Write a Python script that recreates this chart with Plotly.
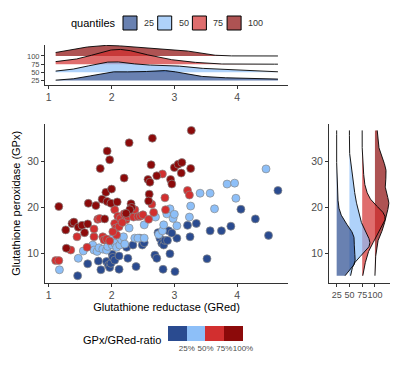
import numpy as np
import plotly.graph_objects as go

# ---------------- data ----------------
groups = ["25", "50", "75", "100"]
group_pos = [25, 50, 75, 100]
point_colors = ["#2A4B90", "#8DBFF8", "#D22F2F", "#8C0A0A"]
fill_colors = ["rgba(42,75,144,0.7)", "rgba(141,191,248,0.7)",
               "rgba(210,47,47,0.7)", "rgba(140,10,10,0.7)"]
colorbar_labels = ["25%", "50%", "75%", "100%"]

gred_q25 = [1.46, 1.62, 1.79, 1.83, 1.92, 1.95, 1.97, 1.99, 2.01, 2.02, 2.05, 2.12, 2.12, 2.24, 2.26,
            2.34, 2.39, 2.45, 2.49, 2.52, 2.69, 2.72, 2.74, 2.77, 2.80, 2.82, 2.83, 2.85, 2.89, 2.91,
            2.93, 3.01, 3.04, 3.25, 3.21, 3.35, 3.52, 3.57, 3.75, 3.90, 4.06, 4.29, 4.65, 4.50, 2.96]
gpx_q25 = [5.1, 7.7, 8.3, 6.4, 8.2, 7.4, 6.9, 7.8, 9.8, 9.1, 8.5, 9.4, 6.5, 11.3, 8.9,
           11.8, 7.1, 13.3, 11.8, 12.3, 9.6, 8.9, 14.5, 13.3, 12.2, 6.5, 11.8, 12.8, 12.8, 14.9,
           9.9, 6.0, 13.3, 13.6, 16.1, 16.5, 8.8, 14.9, 14.9, 15.9, 19.6, 17.5, 23.7, 13.9, 14.4]

gred_q50 = [1.17, 1.47, 1.55, 1.70, 1.72, 1.77, 1.80, 1.86, 1.92, 1.94, 1.99, 2.01, 2.02, 2.05, 2.08,
            2.13, 2.16, 2.19, 2.21, 2.28, 2.37, 2.42, 2.52, 2.52, 2.70, 2.75, 2.81, 2.83, 2.88, 2.93,
            2.98, 3.04, 3.00, 3.24, 3.26, 3.41, 3.57, 3.64, 3.84, 3.96, 3.98, 4.46]
gpx_q50 = [6.4, 8.9, 10.5, 11.8, 10.7, 10.4, 11.2, 10.9, 10.7, 11.5, 12.8, 11.8, 13.3, 12.2, 11.3,
           11.8, 12.9, 13.6, 12.0, 15.5, 13.3, 13.3, 16.2, 13.3, 17.9, 14.1, 14.9, 16.2, 18.6, 19.7,
           17.6, 16.0, 18.5, 17.9, 20.3, 23.1, 23.1, 19.7, 25.1, 25.3, 22.0, 28.4]

gred_q75 = [1.11, 1.16, 1.35, 1.45, 1.61, 1.72, 1.72, 1.78, 1.81, 1.86, 1.88, 1.92, 2.05, 2.05, 2.07,
            2.08, 2.10, 2.12, 2.14, 2.20, 2.23, 2.26, 2.32, 2.35, 2.37, 2.42, 2.46, 2.50, 2.59, 2.64,
            2.67, 2.81, 2.85, 2.86, 3.21, 3.24, 2.17, 1.97, 2.02]
gpx_q75 = [8.4, 8.4, 10.7, 13.6, 11.3, 13.6, 15.3, 17.4, 17.6, 13.6, 12.9, 13.1, 19.5, 16.5, 15.5,
           14.0, 18.1, 15.8, 17.6, 18.6, 17.3, 18.0, 18.7, 17.9, 19.5, 18.0, 18.1, 18.4, 17.4, 20.7,
           18.9, 27.3, 22.1, 19.5, 23.7, 22.7, 16.7, 12.7, 14.7]

gred_q100 = [1.16, 1.27, 1.28, 1.37, 1.40, 1.47, 1.53, 1.57, 1.62, 1.63, 1.75, 1.82, 1.85, 1.89, 1.91,
             1.93, 1.97, 1.93, 2.00, 1.99, 2.09, 2.20, 2.28, 2.31, 2.32, 2.29, 2.58, 2.61, 2.60, 2.59,
             2.63, 2.65, 2.72, 2.94, 2.96, 3.00, 3.06, 3.12, 3.11, 3.27, 3.26, 2.23]
gpx_q100 = [20.2, 15.1, 11.1, 16.5, 16.8, 15.7, 16.1, 14.5, 16.4, 20.9, 20.4, 28.5, 21.8, 17.5, 23.3,
            32.3, 30.4, 21.3, 24.0, 20.9, 21.2, 26.4, 34.1, 20.8, 20.0, 19.5, 26.1, 25.5, 22.9, 21.4,
            29.3, 35.1, 26.9, 26.1, 25.1, 28.7, 29.4, 29.8, 27.5, 36.8, 28.5, 18.7]

gred = [gred_q25, gred_q50, gred_q75, gred_q100]
gpx = [gpx_q25, gpx_q50, gpx_q75, gpx_q100]

W, H = 400, 370

# ---------------- density ridges (joint bandwidth, like ggridges) ----------------
RIDGE_SCALE = 1.8 * 25


def nrd0(v):
    v = np.asarray(v, float)
    sd = v.std(ddof=1)
    iqr = np.subtract(*np.percentile(v, [75, 25]))
    lo = min(sd, iqr / 1.34) if iqr > 0 else sd
    return 0.9 * lo * len(v) ** -0.2


def ridges(samples):
    allv = np.concatenate([np.asarray(s, float) for s in samples])
    bw = np.mean([nrd0(s) for s in samples])
    grid = np.linspace(allv.min(), allv.max(), 400)
    dens = []
    for s in samples:
        s = np.asarray(s, float)
        d = np.exp(-0.5 * ((grid[:, None] - s[None, :]) / bw) ** 2).sum(1)
        dens.append(d / (len(s) * bw * np.sqrt(2 * np.pi)))
    m = max(d.max() for d in dens)
    return grid, [d / m * RIDGE_SCALE for d in dens]


fig = go.Figure()

# top panel: GRed densities
gx, hx = ridges(gred)
for i in [3, 2, 1, 0]:
    base = group_pos[i]
    fig.add_trace(go.Scatter(
        x=np.concatenate([gx, gx[::-1]]),
        y=np.concatenate([base + hx[i], np.full(len(gx), base)]),
        fill="toself", fillcolor=fill_colors[i], line=dict(width=0),
        mode="lines", xaxis="x2", yaxis="y2", showlegend=False, hoverinfo="skip"))
    fig.add_trace(go.Scatter(
        x=gx, y=base + hx[i], mode="lines", line=dict(color="black", width=0.9),
        xaxis="x2", yaxis="y2", showlegend=False, hoverinfo="skip"))

# right panel: GPx densities
gy, hy = ridges(gpx)
for i in [3, 2, 1, 0]:
    base = group_pos[i]
    fig.add_trace(go.Scatter(
        y=np.concatenate([gy, gy[::-1]]),
        x=np.concatenate([base + hy[i], np.full(len(gy), base)]),
        fill="toself", fillcolor=fill_colors[i], line=dict(width=0),
        mode="lines", xaxis="x3", yaxis="y3", showlegend=False, hoverinfo="skip"))
    fig.add_trace(go.Scatter(
        y=gy, x=base + hy[i], mode="lines", line=dict(color="black", width=0.9),
        xaxis="x3", yaxis="y3", showlegend=False, hoverinfo="skip"))

# scatter
for i in range(4):
    fig.add_trace(go.Scatter(
        x=gred[i], y=gpx[i], mode="markers", showlegend=False, name=groups[i],
        marker=dict(size=8, color=point_colors[i], line=dict(color="#8A8A8A", width=0.7)),
        xaxis="x", yaxis="y"))

# colour bar for the ratio quartiles
cs = []
for i, c in enumerate(point_colors):
    cs.append([i / 4, c])
    cs.append([(i + 1) / 4, c])
fig.add_trace(go.Scatter(
    x=[None], y=[None], mode="markers", showlegend=False, hoverinfo="skip",
    marker=dict(color=[0], cmin=0, cmax=100, colorscale=cs, showscale=True,
                colorbar=dict(orientation="h", x=205.5 / W, xanchor="center",
                              y=(H - 326) / H, yanchor="top",
                              len=75, lenmode="pixels", thickness=15,
                              xpad=0, ypad=0, outlinewidth=0,
                              tickvals=group_pos, ticktext=colorbar_labels, ticks="",
                              tickangle=0,
                              tickfont=dict(size=8, color="#4D4D4D"))),
    xaxis="x", yaxis="y"))

# "quantiles" key (fill legend of the ridges)
shapes = []
annotations = [dict(text="quantiles", x=118 / W, y=(H - 23) / H, xref="paper", yref="paper",
                    xanchor="right", yanchor="middle", showarrow=False,
                    font=dict(size=11, color="black"))]
for i, g in enumerate(groups):
    x0 = 123 + i * 34.7
    shapes.append(dict(type="rect", xref="paper", yref="paper",
                       x0=x0 / W, x1=(x0 + 14) / W, y0=(H - 30) / H, y1=(H - 16) / H,
                       fillcolor=fill_colors[i], line=dict(color="black", width=1)))
    annotations.append(dict(text=g, x=(x0 + 19) / W, y=(H - 23) / H, xref="paper", yref="paper",
                            xanchor="left", yanchor="middle", showarrow=False,
                            font=dict(size=9, color="#333333")))
annotations.append(dict(text="GPx/GRed-ratio", x=163 / W, y=(H - 340) / H,
                        xref="paper", yref="paper", xanchor="right", yanchor="middle",
                        showarrow=False, font=dict(size=11, color="black")))

font = "Liberation Sans, Arial, sans-serif"


def ax(**kw):
    d = dict(showline=True, linecolor="#333333", linewidth=1, ticks="outside",
             ticklen=3, tickcolor="#333333", showgrid=False, zeroline=False, tickangle=0,
             tickfont=dict(size=10.5, color="#4D4D4D"))
    d.update(kw)
    return d


xr = [0.94, 4.81]
yr = [3.58, 38.2]
fig.update_layout(
    width=W, height=H, margin=dict(l=0, r=0, t=0, b=0),
    plot_bgcolor="white", paper_bgcolor="white", showlegend=False,
    font=dict(family=font, color="black"),
    xaxis=ax(domain=[45 / W, 288 / W], range=xr, anchor="y", tickvals=[1, 2, 3, 4],
             title=dict(text="Glutathione reductase (GRed)", font=dict(size=11), standoff=0)),
    yaxis=ax(domain=[(H - 282.7) / H, (H - 124) / H], range=yr, anchor="x",
             tickvals=[10, 20, 30],
             title=dict(text="Glutathione peroxidase (GPx)", font=dict(size=11), standoff=4)),
    xaxis2=ax(domain=[45 / W, 288 / W], range=xr, anchor="y2", tickvals=[1, 2, 3, 4]),
    yaxis2=ax(domain=[(H - 84.5) / H, (H - 45) / H], range=[13, 133.5], anchor="x2",
              tickvals=group_pos, ticktext=groups, tickfont=dict(size=7.5, color="#4D4D4D")),
    xaxis3=ax(domain=[329 / W, 390 / W], range=[10, 129.5], anchor="y3",
              tickvals=group_pos, ticktext=groups, tickfont=dict(size=9, color="#4D4D4D")),
    yaxis3=ax(domain=[(H - 282.7) / H, (H - 124) / H], range=yr, anchor="x3",
              tickvals=[10, 20, 30]),
    shapes=shapes,
    annotations=annotations,
)

fig.write_html("out.html", config={"displayModeBar": False},
               post_script="document.body.style.margin='0px';")
